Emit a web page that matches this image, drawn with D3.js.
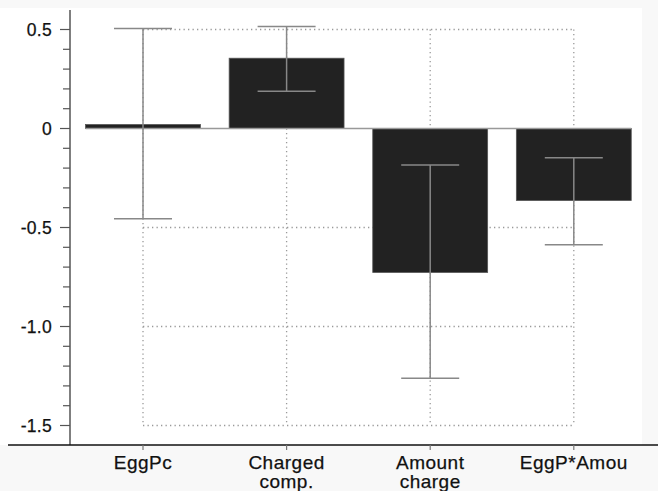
<!DOCTYPE html>
<html>
<head>
<meta charset="utf-8">
<script src="https://cdn.jsdelivr.net/npm/d3@7"></script>
<style>
  html, body { margin: 0; padding: 0; background: #f8f8f8; }
  svg { display: block; }
  text { font-family: "Liberation Sans", Arial, Helvetica, sans-serif; fill: #111; }
</style>
</head>
<body>
<script>
// ---- data ----
const categories = ["EggPc", "Charged comp.", "Amount charge", "EggP*Amou"];
const categoryLines = [["EggPc"], ["Charged", "comp."], ["Amount", "charge"], ["EggP*Amou"]];
const values = [0.02, 0.355, -0.727, -0.364];
const errLow = [-0.456, 0.188, -1.261, -0.587];
const errHigh = [0.505, 0.515, -0.184, -0.148];
const yTickValues = [0.5, 0, -0.5, -1.0, -1.5];
const yTickLabels = ["0.5", "0", "-0.5", "-1.0", "-1.5"];
const gridValues = [0.5, -0.5, -1.0, -1.5];

const W = 658, H = 491;
const svg = d3.select("body").append("svg").attr("width", W).attr("height", H);

const y = d3.scaleLinear().domain([-1.5, 0.5]).range([425.5, 29.5]);
const x = d3.scaleBand().domain(categories).range([71.2, 645.6]).paddingInner(0.2).paddingOuter(0.1);
const cx = c => x(c) + x.bandwidth() / 2;

const axisX = 70, axisBottom = 445, axisTop = 10;
const FONT = "'Liberation Sans', Arial, Helvetica, sans-serif";

// plot background (white)
svg.append("rect").attr("x", 0).attr("y", axisTop - 2).attr("width", 642).attr("height", axisBottom - axisTop + 2).attr("fill", "#fff");

// dotted grid
const firstC = cx(categories[0]), lastC = cx(categories[categories.length - 1]);
const grid = svg.append("g").attr("stroke", "#999").attr("stroke-width", 1.3).attr("stroke-dasharray", "1.3,3.2");
grid.selectAll("line.h").data(gridValues).join("line")
  .attr("x1", firstC).attr("x2", lastC).attr("y1", d => y(d)).attr("y2", d => y(d));
grid.selectAll("line.v").data(categories).join("line")
  .attr("x1", d => cx(d)).attr("x2", d => cx(d)).attr("y1", y(0.5)).attr("y2", y(-1.5));

// bars
const data = categories.map((c, i) => ({ c, v: values[i], lo: errLow[i], hi: errHigh[i] }));
svg.append("g").selectAll("rect").data(data).join("rect")
  .attr("x", d => x(d.c))
  .attr("width", x.bandwidth())
  .attr("y", d => y(Math.max(0, d.v)))
  .attr("height", d => Math.abs(y(d.v) - y(0)))
  .attr("fill", "#222")
  .attr("stroke", "#555").attr("stroke-width", 0.8);

// zero baseline
svg.append("line")
  .attr("x1", x(categories[0])).attr("x2", x(categories[3]) + x.bandwidth())
  .attr("y1", y(0)).attr("y2", y(0))
  .attr("stroke", "#999").attr("stroke-width", 1.5);

// error bars
const capHalf = 29;
const eb = svg.append("g").attr("stroke", "#888").attr("stroke-width", 1.5);
eb.selectAll("line.stem").data(data).join("line")
  .attr("x1", d => cx(d.c)).attr("x2", d => cx(d.c))
  .attr("y1", d => y(d.hi)).attr("y2", d => y(d.lo));
eb.selectAll("line.capHi").data(data).join("line")
  .attr("x1", d => cx(d.c) - capHalf).attr("x2", d => cx(d.c) + capHalf)
  .attr("y1", d => y(d.hi)).attr("y2", d => y(d.hi));
eb.selectAll("line.capLo").data(data).join("line")
  .attr("x1", d => cx(d.c) - capHalf).attr("x2", d => cx(d.c) + capHalf)
  .attr("y1", d => y(d.lo)).attr("y2", d => y(d.lo));

// y axis
svg.append("line").attr("x1", axisX).attr("x2", axisX).attr("y1", axisTop).attr("y2", axisBottom)
  .attr("stroke", "#555").attr("stroke-width", 1.5);
const minorTicks = d3.range(-15, 6).map(k => k / 10);
svg.append("g").selectAll("line").data(minorTicks).join("line")
  .attr("x1", d => (Math.abs(d * 2 - Math.round(d * 2)) < 1e-9) ? axisX - 10 : axisX - 7)
  .attr("x2", axisX)
  .attr("y1", d => y(d)).attr("y2", d => y(d))
  .attr("stroke", "#555").attr("stroke-width", 1.2);
svg.append("g").selectAll("text").data(yTickValues).join("text")
  .attr("x", 52).attr("y", d => y(d) + 6)
  .attr("text-anchor", "end")
  .attr("font-family", FONT)
  .attr("font-size", 17.5).attr("letter-spacing", 0.3)
  .attr("stroke", "#111").attr("stroke-width", 0.25)
  .text((d, i) => yTickLabels[i]);

// x axis
svg.append("line").attr("x1", 8).attr("x2", W).attr("y1", axisBottom).attr("y2", axisBottom)
  .attr("stroke", "#111").attr("stroke-width", 1.5);
svg.append("g").selectAll("line").data(categories).join("line")
  .attr("x1", d => cx(d)).attr("x2", d => cx(d)).attr("y1", axisBottom).attr("y2", axisBottom + 5)
  .attr("stroke", "#777").attr("stroke-width", 1.2);
const xl = svg.append("g").selectAll("text").data(categories).join("text")
  .attr("x", d => cx(d)).attr("y", 469)
  .attr("text-anchor", "middle")
  .attr("font-family", FONT)
  .attr("font-size", 19).attr("letter-spacing", 0.5)
  .attr("stroke", "#111").attr("stroke-width", 0.25);
xl.each(function(d, i) {
  const t = d3.select(this);
  categoryLines[i].forEach((ln, j) => {
    t.append("tspan").attr("x", cx(d)).attr("dy", j === 0 ? 0 : 19).text(ln);
  });
});
</script>
</body>
</html>
